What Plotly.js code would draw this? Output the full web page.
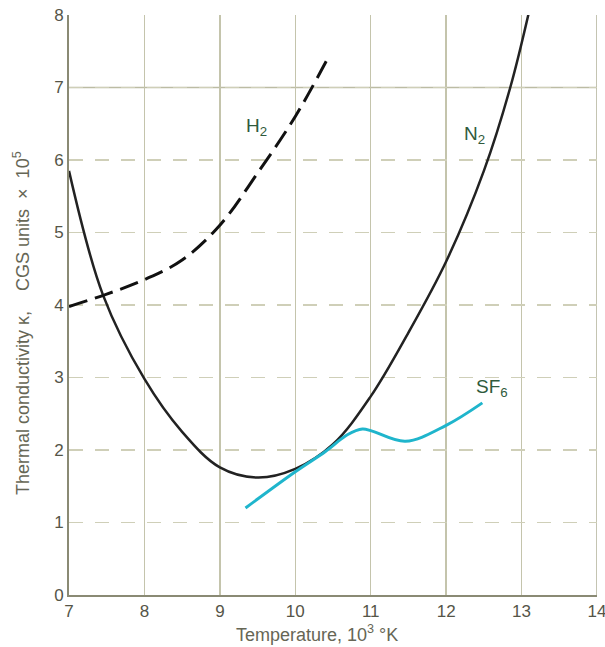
<!DOCTYPE html>
<html>
<head>
<meta charset="utf-8">
<script src="https://cdn.plot.ly/plotly-3.0.1.min.js"></script>
<style>html,body{margin:0;padding:0;background:#fff;}#chart{width:605px;height:647px;}</style>
</head>
<body>
<div id="chart"></div>
<script>
// Temperature (10^3 K) and thermal conductivity (CGS units x 10^5)
const n2Temp = [7.0, 7.45, 8.0, 8.5, 9.0, 9.5, 10.0, 10.5, 11.0, 11.5, 12.0, 12.5, 12.85, 13.1];
const n2Cond = [5.85, 4.14, 2.98, 2.25, 1.76, 1.62, 1.74, 2.08, 2.74, 3.62, 4.6, 5.85, 7.0, 8.05];

const h2Temp = [7.0, 7.5, 8.0, 8.5, 9.0, 9.5, 10.0, 10.44];
const h2Cond = [3.98, 4.15, 4.35, 4.62, 5.1, 5.82, 6.6, 7.42];

const sf6Temp = [9.34, 10.0, 10.4, 10.69, 10.89, 11.02, 11.46, 12.0, 12.48];
const sf6Cond = [1.2, 1.70, 1.98, 2.21, 2.29, 2.26, 2.12, 2.34, 2.65];

const xTicks = [7, 8, 9, 10, 11, 12, 13, 14];
const yTicks = [0, 1, 2, 3, 4, 5, 6, 7, 8];

const labels = [
  {text: 'H<sub>2</sub>', x: 9.49, y: 6.46},
  {text: 'N<sub>2</sub>', x: 12.37, y: 6.34},
  {text: 'SF<sub>6</sub>', x: 12.61, y: 2.86}
];

const FONT = 'Liberation Sans, Arial, sans-serif';
const labelColor = '#2f5a3c';

const traces = [
  {x: n2Temp, y: n2Cond, mode: 'lines', line: {color: '#222222', width: 2.5, shape: 'spline', smoothing: 1}, hoverinfo: 'skip', showlegend: false},
  {x: h2Temp, y: h2Cond, mode: 'lines', line: {color: '#111111', width: 3, shape: 'spline', smoothing: 1, dash: '19px,8px'}, hoverinfo: 'skip', showlegend: false},
  {x: sf6Temp, y: sf6Cond, mode: 'lines', line: {color: '#1fb5cc', width: 3, shape: 'spline', smoothing: 1}, hoverinfo: 'skip', showlegend: false}
];

const annotations = labels.map(l => ({
  text: l.text, x: l.x, y: l.y, xref: 'x', yref: 'y', showarrow: false,
  font: {family: FONT, size: 19, color: labelColor}
}));
annotations.push({
  text: 'Temperature, 10<sup>3</sup> °K', xref: 'paper', yref: 'paper', x: 0.47, y: -0.067,
  xanchor: 'center', yanchor: 'middle', showarrow: false,
  font: {family: FONT, size: 18, color: '#666655'}
});
annotations.push({
  text: 'Thermal conductivity κ,\u00a0\u00a0\u00a0\u00a0CGS units\u00a0\u00a0×\u00a0\u00a010<sup>5</sup>', xref: 'paper', yref: 'paper',
  x: -0.089, y: 0.469, textangle: -90, xanchor: 'center', yanchor: 'middle', showarrow: false,
  font: {family: FONT, size: 18, color: '#666655'}
});

const layout = {
  width: 605, height: 647,
  margin: {l: 69, r: 8, t: 15, b: 52},
  paper_bgcolor: '#ffffff', plot_bgcolor: '#ffffff',
  font: {family: FONT, color: '#555548'},
  xaxis: {
    range: [7, 14], tickvals: xTicks, ticktext: xTicks.map(String),
    showgrid: true, gridcolor: '#c4c4ac', gridwidth: 1.5,
    showline: true, linecolor: '#8a8a74', linewidth: 2,
    zeroline: false, ticks: '', ticklabeloverflow: 'allow',
    tickfont: {family: FONT, size: 17, color: '#555548'}
  },
  yaxis: {
    range: [0, 8], tickvals: yTicks, ticktext: yTicks.map(String),
    showgrid: true, gridcolor: '#cfcfb8', gridwidth: 1.5, griddash: '14px,12px',
    showline: true, linecolor: '#8a8a74', linewidth: 2,
    zeroline: false, ticks: '', ticklabeloverflow: 'allow',
    tickfont: {family: FONT, size: 17, color: '#555548'}
  },
  shapes: [
    {type: 'line', xref: 'paper', x0: 0, x1: 1, yref: 'y', y0: 7, y1: 7, line: {color: '#bcbca4', width: 1.5}, layer: 'below'},
    {type: 'line', xref: 'x', x0: 14, x1: 14, yref: 'paper', y0: 0, y1: 1, line: {color: '#b0b098', width: 1.5}, layer: 'below'}
  ],
  annotations: annotations
};

Plotly.newPlot('chart', traces, layout, {staticPlot: true, displayModeBar: false});
</script>
</body>
</html>
